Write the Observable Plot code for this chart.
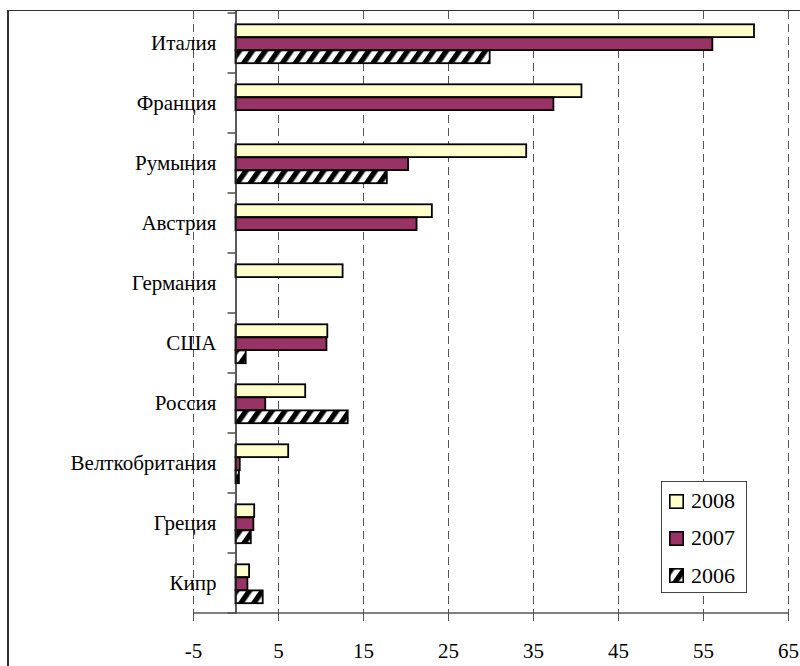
<!DOCTYPE html>
<html>
<head>
<meta charset="utf-8">
<script src="https://cdn.jsdelivr.net/npm/d3@7"></script>
<script src="https://cdn.jsdelivr.net/npm/@observablehq/plot@0.6"></script>
<style>
  html, body { margin: 0; padding: 0; background: #fff; }
  #wrap { position: relative; width: 800px; height: 666px; overflow: hidden; }
  #frame { position: absolute; left: 7px; top: 10px; width: 900px; height: 900px;
           border-left: 2px solid #333; border-top: 1.5px solid #333; }
  #chart { position: absolute; left: 0; top: 0; }
  #chart svg text { font-family: "Liberation Serif", "Times New Roman", "DejaVu Serif", serif; }
  #legend { position: absolute; left: 661px; top: 481px; width: 84px; height: 110px;
            border: 1px solid #444; background: #fff;
            font-family: "Liberation Serif", "Times New Roman", "DejaVu Serif", serif; font-size: 22px; }
  .item { position: absolute; left: 7px; height: 16px; display: flex; align-items: center; white-space: nowrap; }
  .sw { width: 15px; height: 15px; margin-right: 7px; display: block; }
</style>
</head>
<body>
<div id="wrap">
  <div id="frame"></div>
  <div id="chart"></div>
  <div id="legend"></div>
</div>
<script>
// ---- data ----
const countries = ["Италия", "Франция", "Румыния", "Австрия", "Германия", "США", "Россия", "Велткобритания", "Греция", "Кипр"];
const years = ["2008", "2007", "2006"];
const v2008 = [61.0, 40.7, 34.2, 23.1, 12.6, 10.8, 8.2, 6.2, 2.2, 1.6];
const v2007 = [56.1, 37.4, 20.3, 21.3, null, 10.7, 3.5, 0.5, 2.1, 1.4];
const v2006 = [29.9, null, 17.8, null, null, 1.2, 13.2, 0.4, 1.8, 3.2];
const xTicks = [-5, 5, 15, 25, 35, 45, 55, 65];

const seriesValues = {"2008": v2008, "2007": v2007, "2006": v2006};
const fills = {"2008": "#FFFFCC", "2007": "#993366", "2006": "url(#hatch)"};

// ---- layout / style ----
const W = 800, H = 666;
const FONT = "'Liberation Serif', 'Times New Roman', 'DejaVu Serif', serif";
const insets = {
  "2008": {insetTop: 11.3, insetBottom: 35.9},
  "2007": {insetTop: 24.4, insetBottom: 22.9},
  "2006": {insetTop: 37.4, insetBottom: 9.8}
};

function rows(year) {
  return countries
    .map((c, i) => ({country: c, value: seriesValues[year][i]}))
    .filter(d => d.value != null);
}

// Category boundary ticks on the zero axis + bottom axis line, drawn via scales
function axisExtras(index, scales) {
  const {x, y} = scales;
  const g = d3.create("svg:g").attr("fill", "none");
  const bw = y.bandwidth();
  const x0 = x(0);
  const pos = countries.map(c => y(c)).concat([y(countries[countries.length - 1]) + bw]);
  for (const p of pos) {
    g.append("line").attr("x1", x0 - 8).attr("x2", x0).attr("y1", p).attr("y2", p)
      .attr("stroke", "#333").attr("stroke-width", 1.3);
  }
  const yb = y(countries[countries.length - 1]) + bw;
  g.append("line").attr("x1", x(xTicks[0])).attr("x2", x(xTicks[xTicks.length - 1]))
    .attr("y1", yb).attr("y2", yb).attr("stroke", "#555").attr("stroke-width", 1.3);
  return g.node();
}

const chart = Plot.plot({
  width: W,
  height: H,
  marginLeft: 193,
  marginRight: 12,
  marginTop: 11,
  marginBottom: 52,
  style: {fontFamily: FONT, fontSize: "21px", background: "transparent", color: "#000", overflow: "visible"},
  x: {domain: [-5, 65], axis: null, label: null},
  y: {domain: countries, padding: 0, axis: null},
  marks: [
    Plot.ruleX(xTicks, {stroke: "#555", strokeWidth: 1, strokeDasharray: "8,5"}),
    ...years.map(yr => Plot.barX(rows(yr), {
      x1: 0, x2: "value", y: "country",
      fill: fills[yr], stroke: "#000", strokeWidth: 1.8,
      ...insets[yr]
    })),
    Plot.ruleX([0], {stroke: "#222", strokeWidth: 1.5}),
    axisExtras,
    Plot.axisX(xTicks, {tickSize: 7, tickPadding: 22, tickFormat: d => String(d), label: null,
                        stroke: "#555", fill: "#000", fontSize: 21, fontFamily: FONT}),
    Plot.text(countries, {x: 0, y: d => d, text: d => d, textAnchor: "end", dx: -19.5,
                          fontSize: 21, fontFamily: FONT, fill: "#000"})
  ]
});

// hatch pattern
const svgNode = chart.tagName.toLowerCase() === "svg" ? chart : chart.querySelector("svg");
d3.select(svgNode).insert("defs", ":first-child").html(
  '<pattern id="hatch" patternUnits="userSpaceOnUse" width="10.6" height="10.6" patternTransform="rotate(35)">' +
  '<rect width="10.6" height="10.6" fill="#fff"/><rect width="5.3" height="10.6" fill="#000"/></pattern>'
);
document.getElementById("chart").appendChild(chart);

// legend (inside chart area, as in the reference)
const legend = d3.select("#legend");
const tops = [11.3, 48, 85.7];
years.forEach((yr, i) => {
  const item = legend.append("div").attr("class", "item").style("top", tops[i] + "px");
  const sw = item.append("svg").attr("class", "sw").attr("width", 15).attr("height", 15);
  sw.append("rect").attr("x", 0.8).attr("y", 0.8).attr("width", 13.4).attr("height", 13.4)
    .attr("fill", fills[yr]).attr("stroke", "#000").attr("stroke-width", 1.6);
  item.append("span").text(yr);
});
</script>
</body>
</html>
